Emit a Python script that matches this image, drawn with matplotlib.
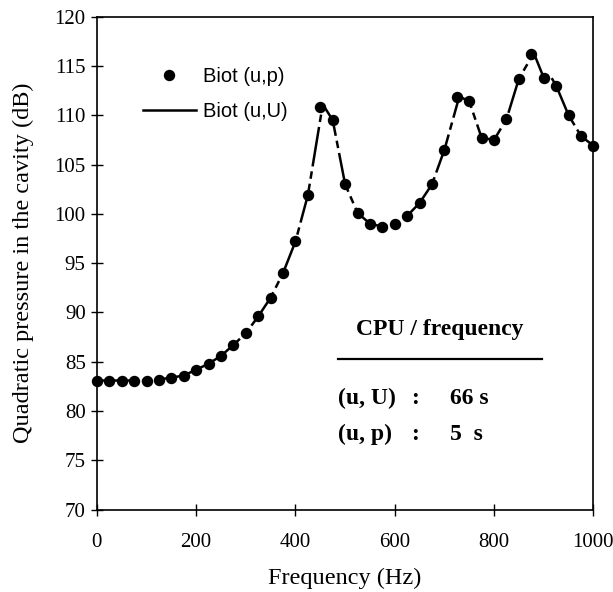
import matplotlib.pyplot as plt
from matplotlib.lines import Line2D

# frequency grid (Hz) and quadratic pressure (dB)
freq_up = [0, 25, 50, 75, 100, 125, 150, 175, 200, 225, 250, 275, 300, 325,
           350, 375, 400, 425, 450, 475, 500, 525, 550, 575, 600, 625, 650,
           675, 700, 725, 750, 775, 800, 825, 850, 875, 900, 925, 950, 975, 1000]
p_up = [83.1, 83.1, 83.1, 83.1, 83.1, 83.2, 83.4, 83.6, 84.2, 84.8, 85.6,
        86.7, 87.9, 89.6, 91.5, 94.0, 97.2, 101.9, 110.8, 109.5, 103.0, 100.1,
        99.0, 98.7, 99.0, 99.8, 101.1, 103.0, 106.5, 111.8, 111.4, 107.7, 107.5,
        109.6, 113.7, 116.2, 113.8, 113.0, 110.0, 107.9, 106.9]

# Biot (u,U) curve
freq_uU = [0, 25, 50, 75, 100, 125, 150, 175, 200, 225, 250, 275, 300, 325,
           350, 375, 400, 425, 455, 475, 500, 525, 550, 575, 600, 625, 650,
           675, 700, 730, 750, 775, 800, 825, 850, 880, 900, 912, 925, 950,
           975, 1000]
p_uU = [83.1, 83.1, 83.1, 83.1, 83.1, 83.2, 83.4, 83.6, 84.2, 84.8, 85.6,
        86.7, 87.9, 89.6, 91.5, 94.0, 97.2, 101.9, 111.1, 109.5, 103.0, 100.1,
        99.0, 98.7, 99.0, 99.8, 101.1, 103.0, 106.5, 111.9, 111.4, 107.7, 107.5,
        109.6, 113.7, 116.3, 113.8, 114.1, 113.0, 110.0, 107.9, 106.9]

serif = ['Liberation Serif', 'DejaVu Serif']
sans = ['Liberation Sans', 'DejaVu Sans']

fig = plt.figure(figsize=(6.13, 5.92), dpi=100)
ax = fig.add_axes([0.158, 0.139, 0.81, 0.833])

ax.plot(freq_uU, p_uU, color='black', lw=1.8, dashes=(16, 2, 3, 2), zorder=2)
ax.plot(freq_up, p_up, 'o', color='black', ms=7.2, zorder=3, clip_on=False)

ax.set_xlim(0, 1000)
ax.set_ylim(70, 120)
ax.set_xticks([0, 200, 400, 600, 800, 1000])
ax.set_yticks(range(70, 121, 5))
ax.tick_params(direction='inout', length=8, width=1, labelsize=15)
ax.tick_params(axis='x', pad=13)
ax.tick_params(axis='y', pad=4)
for lab in ax.get_xticklabels() + ax.get_yticklabels():
    lab.set_family(serif)
for s in ax.spines.values():
    s.set_linewidth(1.2)

ax.set_xlabel('Frequency (Hz)', family=serif, fontsize=17.5, labelpad=11)
ax.set_ylabel('Quadratic pressure in the cavity (dB)', family=serif, fontsize=17.5, labelpad=15)

handles = [Line2D([], [], marker='o', ls='none', color='black', ms=7.2),
           Line2D([], [], color='black', lw=1.8)]
ax.legend(handles, ['Biot (u,p)', 'Biot (u,U)'], loc='upper left',
          bbox_to_anchor=(0.056, 0.935), frameon=False, handlelength=2.65,
          handletextpad=0.35, labelspacing=0.8, prop={'family': sans, 'size': 14.5})

# CPU time box
ax.text(0.69, 0.365, 'CPU / frequency', transform=ax.transAxes, ha='center',
        va='center', family=serif, fontsize=17, fontweight='bold')
ax.plot([0.486, 0.897], [0.306, 0.306], transform=ax.transAxes, color='black', lw=1.6)
ax.text(0.486, 0.225, '(u, U)', transform=ax.transAxes, va='center',
        family=serif, fontsize=17, fontweight='bold')
ax.text(0.633, 0.225, ':', transform=ax.transAxes, va='center',
        family=serif, fontsize=17, fontweight='bold')
ax.text(0.712, 0.225, '66 s', transform=ax.transAxes, va='center',
        family=serif, fontsize=17, fontweight='bold')
ax.text(0.486, 0.152, '(u, p)', transform=ax.transAxes, va='center',
        family=serif, fontsize=17, fontweight='bold')
ax.text(0.633, 0.152, ':', transform=ax.transAxes, va='center',
        family=serif, fontsize=17, fontweight='bold')
ax.text(0.712, 0.152, '5  s', transform=ax.transAxes, va='center',
        family=serif, fontsize=17, fontweight='bold')

fig.savefig('out.png', dpi=100)
